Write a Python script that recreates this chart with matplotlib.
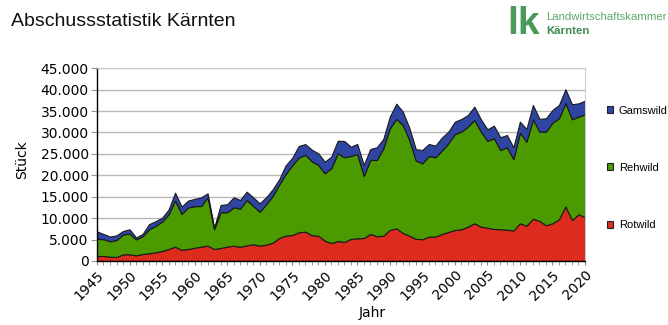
import numpy as np
import matplotlib.pyplot as plt
from matplotlib.patches import Patch
from matplotlib.ticker import MultipleLocator, FuncFormatter

# Abschussstatistik Kaernten 1945-2020
years = np.arange(1945, 2021)

rotwild = [1170, 1170, 1000, 930, 1560, 1560, 1320, 1630, 1800, 2030,
           2340, 2800, 3340, 2600, 2800, 3100, 3340, 3580, 2800, 3040,
           3340, 3580, 3300, 3660, 3900, 3580, 3820, 4290, 5370, 5910,
           6070, 6700, 6850, 6030, 5910, 4740, 4200, 4670, 4440, 5140,
           5300, 5370, 6300, 5770, 5910, 7240, 7630, 6540, 5910, 5170,
           5070, 5680, 5680, 6300, 6770, 7240, 7400, 8010, 8800, 8010,
           7780, 7470, 7400, 7310, 7120, 8800, 8240, 9880, 9340, 8340,
           8800, 9740, 12760, 9570, 10900, 10200]

rehwild = [3970, 3930, 3600, 3970, 4640, 4840, 3730, 4120, 5600, 6170,
           6860, 8100, 10760, 8400, 9700, 9700, 9500, 11290, 4600, 8330,
           8030, 8960, 8920, 10580, 8940, 7930, 9420, 10890, 12450, 14400,
           16270, 17420, 17950, 17270, 16510, 15740, 17450, 20480, 19770, 19380,
           19690, 14480, 17280, 17810, 20400, 23740, 25530, 25220, 22340, 18280,
           17740, 18840, 18530, 19460, 20710, 22410, 22800, 23350, 24120, 22190,
           20310, 21180, 18520, 19230, 16660, 21160, 19620, 23170, 20860, 21860,
           23500, 23580, 24120, 23520, 22800, 24050]

gamswild = [1760, 1200, 1100, 1100, 800, 1000, 450, 550, 1200, 1100,
            900, 1100, 1850, 1700, 1600, 1700, 2030, 930, 380, 1710,
            1870, 2330, 2020, 1940, 2030, 1960, 1630, 1560, 1260, 2030,
            1710, 2730, 2500, 2700, 2730, 2710, 2700, 2940, 3810, 2170,
            2330, 2570, 2570, 2960, 2180, 2720, 3570, 3110, 2850, 2650,
            3110, 2800, 2720, 3040, 2720, 2880, 2960, 2730, 3110, 2890,
            2660, 2940, 2960, 2880, 2760, 2570, 2960, 3380, 3000, 3120,
            2960, 3110, 3220, 3510, 3100, 3180]

labels = ["Rotwild", "Rehwild", "Gamswild"]
colors = ["#dd2b1e", "#4b9b00", "#2f45a2"]
narrow = ["Liberation Sans", "DejaVu Sans"]

fig = plt.figure(figsize=(6.68, 3.25), dpi=100)
ax = fig.add_axes([0.1452, 0.197, 0.7305, 0.593])

ax.stackplot(years, rotwild, rehwild, gamswild, colors=colors,
             edgecolor="#1a1a1a", linewidth=0.8)

ax.set_xlim(1945, 2020)
ax.set_ylim(0, 45000)
ax.yaxis.set_major_locator(MultipleLocator(5000))
ax.yaxis.set_major_formatter(FuncFormatter(lambda v, p: f"{int(v):,}".replace(",", ".")))
ax.grid(axis="y", color="#b8b8b8", linewidth=1)
ax.set_axisbelow(True)

ax.set_xticks(np.arange(1945, 2021, 5))
ax.xaxis.set_minor_locator(MultipleLocator(1))
ax.tick_params(axis="x", which="both", length=3, color="#888888", labelsize=10, pad=2)
ax.tick_params(axis="y", length=4, color="#999999", labelsize=10, pad=2)
for lab in ax.get_xticklabels():
    lab.set_rotation(45)
    lab.set_ha("right")
    lab.set_rotation_mode("anchor")

for s in ["left", "bottom"]:
    ax.spines[s].set_color("black")
    ax.spines[s].set_linewidth(1)
for s in ["top", "right"]:
    ax.spines[s].set_color("#cccccc")

fig.text(22 / 668, 1 - 160 / 325, "Stück", rotation=90, ha="center", va="center", fontsize=10)
fig.text(372 / 668, 1 - 313 / 325, "Jahr", ha="center", va="center", fontsize=10)

# legend, top entry first
handles = [Patch(facecolor=colors[i], edgecolor="#222222", linewidth=0.8) for i in [2, 1, 0]]
fig.legend(handles, [labels[i] for i in [2, 1, 0]], loc="upper left",
           bbox_to_anchor=(601 / 668, 1 - 100 / 325), frameon=False,
           prop={"family": narrow, "size": 8}, handlelength=0.6, handleheight=0.6,
           handletextpad=0.5, labelspacing=4.25, borderpad=0)

# title and logo
fig.text(11 / 668, 1 - 22 / 325, "Abschussstatistik Kärnten", fontsize=14,
         family=narrow, color="#111111", va="center")
fig.text(507 / 668, 1 - 24 / 325, "lk", fontsize=28, fontweight="bold",
         family=narrow, color="#4a9a5c", va="center")
fig.text(546 / 668, 1 - 17 / 325, "Landwirtschaftskammer", fontsize=8.2,
         family=narrow, color="#5ba96b", va="center")
fig.text(546 / 668, 1 - 31 / 325, "Kärnten", fontsize=8.2, fontweight="bold",
         family=narrow, color="#3f8d50", va="center")

fig.savefig("out.png", dpi=100)
